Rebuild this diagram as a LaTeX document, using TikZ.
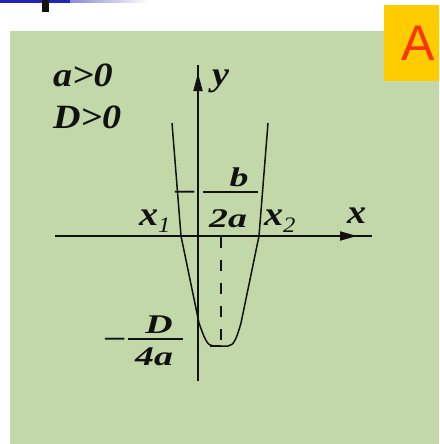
\documentclass[tikz,border=0pt]{standalone}
\usepackage{fontspec}
\setmainfont{Liberation Serif}
\newfontfamily\tabsans{Liberation Sans}
\usepackage{xcolor}
\usepackage{tikz}
\usetikzlibrary{arrows.meta,positioning,calc}
\definecolor{slidegreen}{HTML}{C3D8A9}
\definecolor{tabyellow}{HTML}{FFCC00}
\definecolor{tabred}{HTML}{FF3300}
\definecolor{barblue}{HTML}{2424B8}
\definecolor{ink}{HTML}{111111}
\newcommand\rootidx{\fontsize{22}{22}\selectfont\mdseries\itshape}

\begin{document}
\begin{tikzpicture}[x=1pt, y=-1pt, ink,
    lbl/.style={inner sep=0pt, outer sep=0pt, text=ink, font=\fontsize{34}{34}\selectfont\bfseries\itshape\addfontfeatures{FakeStretch=1.12}},
    frc/.style={inner sep=0pt, outer sep=0pt, text=ink, font=\fontsize{27}{27}\selectfont\bfseries\itshape\addfontfeatures{FakeStretch=1.4}}]
            \useasboundingbox (0,0) rectangle (439,444);
            \fill[white] (0,0) rectangle (439,444);
            \shade[left color=barblue, right color=white] (0,0) rectangle (150,3);
            \fill[barblue] (0,0) rectangle (70,3);
            \fill[ink] (42,0) rectangle (49,12);
            \fill[slidegreen] (10,31) rectangle (439,444);
            \fill[tabyellow] (384,5) rectangle (439,81);
            \node[inner sep=0pt, outer sep=0pt, anchor=base, text=tabred, font=\tabsans\fontsize{50}{50}\selectfont] (tab) at (418,60) {A};
            \coordinate (xl) at (55,236);
            \coordinate (xr) at (372,236);
            \coordinate (yb) at (198,381);
            \coordinate (yt) at (198,65);
            \draw[line width=1.8pt] (xl) -- (xr);
            \draw[line width=1.8pt] (yb) -- (yt);
            \draw[line width=1.8pt, -{Triangle[length=17pt,width=9pt]}] (338,236) -- (357,236);
            \draw[line width=1.8pt, -{Triangle[length=18pt,width=9pt]}] (198,95) -- (198,73);
            \draw[line width=1.5pt, line join=round] (172,123) -- (181,236) -- (199,323) .. controls (204,337) and (207,346) .. (213,346) -- (228,346) .. controls (234,346) and (237,337) .. (241,323) -- (259,236) -- (268,123);
            \coordinate (vx) at (221,346);
            \draw[line width=1.5pt, dash pattern=on 11pt off 12pt] (221,237) -- (vx);
            \draw[line width=1.5pt, dash pattern=on 11pt off 12pt] (vx) -- (198,346);
            \node[lbl, anchor=base west] (apos) at (53,86) {a>0};
            \node[lbl, anchor=base west] (dpos) at (53,128) {D>0};
            \node[lbl, anchor=base west] (ylab) at (212,85) {y};
            \node[lbl, anchor=base west] (xlab) at (347,223) {x};
            \node[lbl, anchor=base west] (xone) at (139,225) {x\raisebox{-7pt}{\rootidx 1}};
            \node[lbl, anchor=base west] (xtwo) at (264,225) {x\raisebox{-7pt}{\rootidx 2}};
            \draw[line width=2.8pt] (203,192) -- (258,192);
            \node[frc, anchor=base] (bnum) at (239,186) {b};
            \node[frc, anchor=base] (bden) at (228,227) {2a};
            \node[frc, anchor=base] (bneg) at (185,198) {–};
            \draw[line width=2.8pt] (128,339) -- (183,339);
            \node[frc, anchor=base] (dnum) at (159,333) {D};
            \node[frc, anchor=base] (dden) at (154,365) {4a};
            \node[frc, anchor=base] (dneg) at (115,345) {–};
        \end{tikzpicture}
\end{document}
